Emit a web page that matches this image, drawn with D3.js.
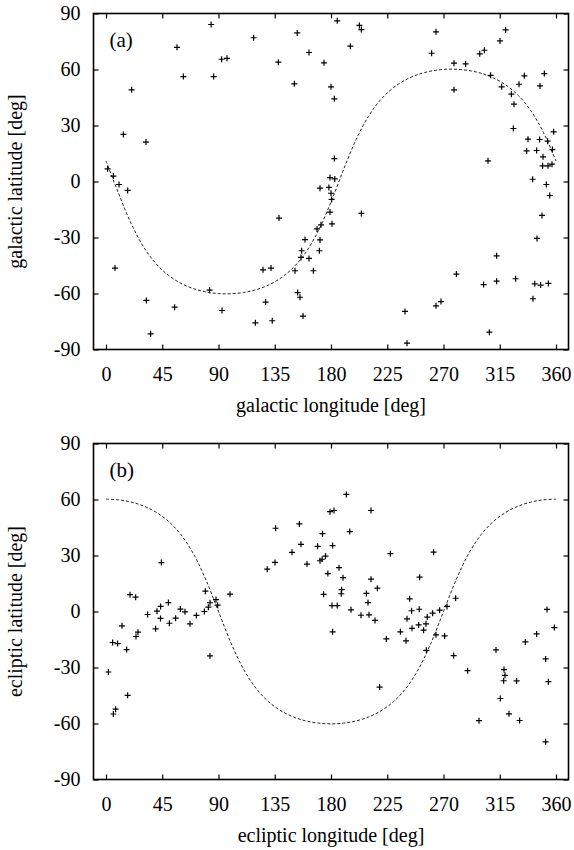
<!DOCTYPE html>
<html>
<head>
<meta charset="utf-8">
<script src="https://cdn.jsdelivr.net/npm/d3@7"></script>
<style>
  body { margin: 0; background: #fff; }
  svg { display: block; }
  text { font-family: "Liberation Serif", "Times New Roman", serif; fill: #000; }
</style>
</head>
<body>
<div id="chart"></div>
<script>
// tick values
const lonTicks = [0, 45, 90, 135, 180, 225, 270, 315, 360];
const latTicks = [-90, -60, -30, 0, 30, 60, 90];

// panel (a): galactic coordinates [l, b]
const galPoints = [
  [84.1, 84.1], [56.8, 71.9], [118.1, 77.0], [153.0, 79.6], [92.5, 65.5], [96.8, 66.0],
  [137.9, 63.9], [162.4, 69.1], [174.4, 63.6], [61.9, 56.2], [86.1, 56.2], [150.7, 52.3],
  [20.5, 49.1], [13.9, 25.2], [32.0, 21.1], [1.3, 6.8], [5.9, 2.9], [10.4, -1.6],
  [17.3, -4.8], [171.2, -3.6], [178.3, -3.2], [180.0, 50.7], [185.0, 86.1], [202.7, 83.6],
  [204.3, 81.4], [195.5, 72.5], [264.0, 80.2], [260.5, 68.7], [182.7, 44.3], [278.4, 63.4],
  [287.7, 63.0], [278.4, 49.1], [299.0, 68.4], [302.7, 70.3], [315.2, 75.3], [319.7, 81.2],
  [307.7, 56.9], [316.5, 50.7], [324.3, 46.8], [326.4, 41.4], [334.7, 56.6], [330.4, 52.1],
  [350.7, 57.8], [347.2, 51.2], [325.9, 28.4], [337.6, 22.7], [336.5, 16.4], [346.9, 22.5],
  [353.3, 21.6], [358.1, 26.6], [344.5, 16.6], [357.1, 17.1], [349.6, 13.2], [349.3, 8.4],
  [353.6, 8.4], [356.8, 9.3], [305.6, 11.1], [341.3, 1.2], [352.3, -1.6], [355.0, -7.5],
  [182.7, 12.3], [179.2, 2.1], [183.0, 1.4], [180.0, -6.3], [180.5, -9.6], [179.2, -16.4],
  [180.8, -22.7], [138.4, -19.6], [7.2, -46.4], [168.8, -25.4], [172.0, -23.2], [159.2, -31.1],
  [171.2, -31.3], [156.5, -37.1], [170.7, -37.1], [156.0, -40.7], [162.4, -41.2], [125.6, -47.3],
  [132.0, -46.4], [151.2, -47.8], [165.9, -47.8], [82.9, -58.2], [153.3, -59.5], [155.2, -62.0],
  [32.3, -63.7], [127.7, -64.6], [54.9, -67.3], [92.8, -69.1], [157.6, -72.1], [119.5, -75.7],
  [133.0, -74.6], [35.7, -81.6], [204.3, -17.1], [348.8, -18.2], [344.8, -30.5], [312.5, -39.8],
  [280.3, -49.6], [302.1, -55.2], [312.5, -53.4], [327.7, -52.1], [343.0, -54.8], [347.7, -55.5],
  [353.9, -54.6], [341.6, -62.8], [239.2, -69.6], [264.0, -66.6], [268.0, -64.3], [306.7, -80.7],
  [240.8, -86.6]
];

// panel (b): ecliptic coordinates [lambda, beta]
const eclPoints = [
  [44.3, 26.2], [135.7, 44.6], [154.7, 46.9], [179.2, 53.5], [182.4, 54.1], [192.3, 62.7],
  [212.0, 54.1], [173.2, 41.7], [195.0, 42.8], [156.0, 36.0], [169.3, 34.9], [181.3, 35.3],
  [148.8, 31.7], [227.5, 31.0], [262.1, 31.8], [135.2, 26.3], [129.0, 22.7], [160.8, 25.4],
  [171.2, 27.2], [172.9, 28.0], [175.6, 29.7], [186.4, 23.5], [177.5, 20.3], [189.6, 18.1],
  [212.0, 17.3], [217.1, 12.5], [250.9, 18.4], [188.5, 11.7], [188.2, 9.5], [174.1, 9.2],
  [208.3, 9.7], [209.6, 4.8], [180.8, 3.2], [185.0, 3.2], [196.0, 0.9], [204.0, -2.0],
  [210.4, -1.8], [215.2, -4.8], [242.9, 6.8], [244.5, 0.4], [250.6, 1.2], [257.0, -3.0],
  [261.3, -0.9], [240.8, -3.9], [250.1, -7.2], [256.0, -6.6], [244.8, -9.0], [266.9, 0.7],
  [272.8, 2.7], [279.7, 7.1], [99.2, 9.3], [79.5, 10.9], [88.0, 6.4], [89.3, 3.4],
  [83.2, 4.7], [81.9, 2.3], [78.7, 0.0], [19.2, 9.0], [23.7, 7.7], [49.9, 4.8],
  [43.7, 2.7], [40.8, 0.2], [59.5, 1.3], [63.2, -0.2], [33.3, -1.6], [43.6, -3.7],
  [72.3, -2.1], [55.7, -3.6], [50.7, -6.3], [67.2, -6.6], [12.8, -7.7], [39.7, -9.3],
  [5.3, -16.6], [9.3, -17.2], [16.5, -20.4], [24.0, -13.4], [25.6, -11.1], [1.9, -32.4],
  [83.2, -23.8], [17.3, -44.9], [7.7, -52.3], [5.9, -54.9], [352.8, 1.1], [358.7, -8.6],
  [181.3, -10.9], [224.3, -14.7], [235.5, -10.9], [240.0, -15.7], [254.1, -10.0], [256.3, -20.8],
  [264.0, -12.5], [270.9, -13.1], [278.1, -23.6], [289.3, -31.7], [218.9, -40.5], [298.4, -58.5],
  [312.0, -20.6], [318.4, -31.1], [319.2, -34.2], [318.1, -37.1], [328.5, -37.2], [315.4, -46.6],
  [322.4, -54.8], [330.9, -58.4], [335.5, -16.3], [344.5, -12.0], [351.7, -25.4], [353.9, -37.6],
  [351.7, -69.8]
];

// dashed curves, sampled every 10 deg from 0 to 360
const curveLon = d3.range(0, 361, 10);
const eclipticLat = [
  10.98, -6.29, -22.34, -34.97, -44.02, -50.29, -54.57, -57.41, -59.16, -60.04,
  -60.14, -59.48, -57.98, -55.47, -51.64, -45.99, -37.80, -26.21, -10.98, 6.29,
  22.34, 34.97, 44.02, 50.29, 54.57, 57.41, 59.16, 60.04, 60.14, 59.48,
  57.98, 55.47, 51.64, 45.99, 37.80, 26.21, 10.98
];
const galPlaneLat = [
  60.19, 59.81, 58.63, 56.51, 53.21, 48.29, 41.11, 30.84, 16.86, 0,
  -16.86, -30.84, -41.11, -48.29, -53.21, -56.51, -58.63, -59.81, -60.19, -59.81,
  -58.63, -56.51, -53.21, -48.29, -41.11, -30.84, -16.86, 0, 16.86, 30.84,
  41.11, 48.29, 53.21, 56.51, 58.63, 59.81, 60.19
];

const width = 574;
const height = 850;
const margin = { left: 93.5, right: 5.5 };
const iwidth = width - margin.left - margin.right;
const iheight = 336;

const svg = d3.select("#chart").append("svg")
  .attr("width", width)
  .attr("height", height);

function drawPanel(top, points, curve, tag, xTitle, yTitle) {
  const g = svg.append("g").attr("transform", `translate(${margin.left},${top})`);

  const x = d3.scaleLinear().domain([-10, 370]).range([0, iwidth]);
  const y = d3.scaleLinear().domain([-90, 90]).range([iheight, 0]);

  // axes with inward ticks on all four sides
  g.append("g")
    .attr("transform", `translate(0,${iheight})`)
    .call(d3.axisBottom(x).tickValues(lonTicks).tickSizeInner(-5).tickSizeOuter(0).tickPadding(17)
      .tickFormat((d) => String(d)));
  g.append("g")
    .call(d3.axisLeft(y).tickValues(latTicks).tickSizeInner(-5).tickSizeOuter(0).tickPadding(13)
      .tickFormat((d) => String(d)));
  g.append("g")
    .call(d3.axisTop(x).tickValues(lonTicks).tickSizeInner(-5).tickSizeOuter(0).tickFormat(""));
  g.append("g")
    .attr("transform", `translate(${iwidth},0)`)
    .call(d3.axisRight(y).tickValues(latTicks).tickSizeInner(-5).tickSizeOuter(0).tickFormat(""));

  g.selectAll(".domain").remove();
  g.selectAll(".tick line").attr("stroke", "#000").attr("stroke-width", 1.2);
  g.selectAll(".tick text")
    .style("font-family", '"Liberation Serif", serif')
    .style("font-size", "20px")
    .attr("fill", "#000");

  g.append("rect")
    .attr("x", 0).attr("y", 0)
    .attr("width", iwidth).attr("height", iheight)
    .attr("fill", "none").attr("stroke", "#000").attr("stroke-width", 1.6);

  // dashed reference curve
  const line = d3.line()
    .x((d, i) => x(curveLon[i]))
    .y((d) => y(d))
    .curve(d3.curveCatmullRom);
  g.append("path")
    .datum(curve)
    .attr("d", line)
    .attr("fill", "none")
    .attr("stroke", "#222")
    .attr("stroke-width", 1)
    .attr("stroke-dasharray", "3,2");

  // plus markers
  const s = 3;
  g.selectAll("path.pt")
    .data(points)
    .enter()
    .append("path")
    .attr("class", "pt")
    .attr("d", (d) => {
      const px = x(d[0]), py = y(d[1]);
      return `M${px - s},${py}H${px + s}M${px},${py - s}V${py + s}`;
    })
    .attr("stroke", "#000")
    .attr("stroke-width", 1.2);

  g.append("text")
    .attr("x", 16).attr("y", 33)
    .style("font-size", "21px")
    .text(tag);

  g.append("text")
    .attr("x", iwidth / 2).attr("y", iheight + 62)
    .attr("text-anchor", "middle")
    .style("font-size", "20px")
    .text(xTitle);

  g.append("text")
    .attr("transform", `translate(${-margin.left + 22},${iheight / 2}) rotate(-90)`)
    .attr("text-anchor", "middle")
    .style("font-size", "20px")
    .text(yTitle);
}

drawPanel(13.5, galPoints, eclipticLat, "(a)", "galactic longitude [deg]", "galactic latitude [deg]");
drawPanel(443.5, eclPoints, galPlaneLat, "(b)", "ecliptic longitude [deg]", "ecliptic latitude [deg]");
</script>
</body>
</html>
